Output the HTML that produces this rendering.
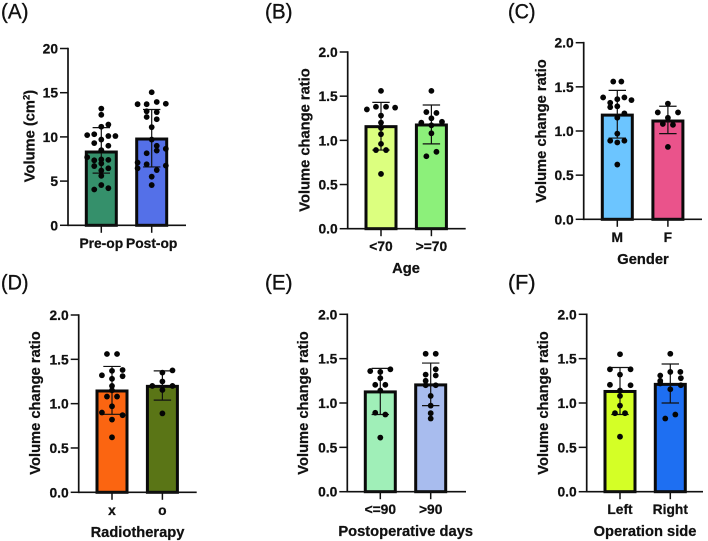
<!DOCTYPE html>
<html lang="en">
<head>
<meta charset="utf-8">
<title>Volume change charts</title>
<style>
html,body{margin:0;padding:0;background:#fff}
svg{display:block}
text{font-family:"Liberation Sans",Arial,sans-serif;fill:#111}
.tick,.cat{font-weight:700;font-size:13.8px;stroke:#111;stroke-width:.25px}
.title{font-weight:700;font-size:14.7px;stroke:#111;stroke-width:.25px}
.letter{font-size:21.5px;stroke:#111;stroke-width:.35px}
</style>
</head>
<body>
<svg id="fig" xmlns="http://www.w3.org/2000/svg" width="708" height="541" viewBox="0 0 708 541"></svg>
<script>
// ---- data: ticks ----
const volumeTicks = [0, 5, 10, 15, 20];
const ratioTicks = [0, 0.5, 1, 1.5, 2];

// ---- panel A ----
const aCategories = ['Pre-op', 'Post-op'];
const aMeans = [8.29, 9.76];
const aErrLow = [5.9, 6.6];
const aErrHigh = [11.05, 13.1];
const aPre = [13.2,12.5,11.4,11.15,10.2,10.3,10.1,10.1,9.7,9.3,9.0,8.5,7.7,7.35,7.45,7.4,6.7,7.0,6.45,6.2,5.6,4.55,4.05,4.2];
const aPreJitter = [0,0,.14,0,-.28,-.14,.14,.28,0,-.14,.14,0,-.28,-.14,0,.14,-.14,0,.14,0,0,0,-.14,.14];
const aPost = [15.05,13.7,13.7,13.95,13.75,12.9,12.8,12.25,12.0,11.1,9.7,9.0,8.65,8.15,8.45,7.1,6.9,6.25,6.45,6.75,5.5,4.55];
const aPostJitter = [0,-.28,-.1,.1,.28,-.1,.1,-.1,.1,0,0,.1,.28,-.1,.1,-.28,-.1,.1,-.28,.28,0,0];

// ---- panel B ----
const bCategories = ['<70', '>=70'];
const bMeans = [1.155, 1.174];
const bErrLow = [0.89, 0.96];
const bErrHigh = [1.43, 1.40];
const bLeft = [1.56,1.35,1.38,1.38,1.37,1.28,1.20,1.14,1.07,0.96,0.89,0.89,0.62];
const bLeftJitter = [0,-.28,-.1,.1,.28,0,0,0,0,0,-.1,.1,0];
const bRight = [1.56,1.32,1.31,1.25,1.20,1.21,1.17,1.08,0.82,0.87];
const bRightJitter = [0,-.1,.1,0,-.2,.21,0,0,-.1,.1];

// ---- panel C ----
const cCategories = ['M', 'F'];
const cMeans = [1.18, 1.113];
const cErrLow = [0.92, 0.97];
const cErrHigh = [1.46, 1.28];
const cLeft = [1.56,1.56,1.38,1.32,1.36,1.38,1.35,1.27,1.28,1.20,1.15,0.97,0.89,0.87,0.89,0.62];
const cLeftJitter = [-.08,.08,-.28,-.14,0,.14,.28,-.14,0,.14,0,0,-.14,0,.14,0];
const cRight = [1.31,1.21,1.21,1.15,1.08,1.07,0.82];
const cRightJitter = [0,-.2,.2,0,-.1,.1,0];

// ---- panel D ----
const dCategories = ['x', 'o'];
const dMeans = [1.143, 1.195];
const dErrLow = [0.88, 1.04];
const dErrHigh = [1.42, 1.37];
const dLeft = [1.56,1.56,1.38,1.37,1.32,1.31,1.28,1.20,1.15,1.08,1.08,0.97,0.90,0.87,0.82,0.62];
const dLeftJitter = [-.1,.1,.21,0,-.2,.21,0,0,0,-.1,.1,0,-.2,.21,0,0];
const dRight = [1.35,1.375,1.25,1.20,1.20,1.155,0.89];
const dRightJitter = [0,.2,0,-.2,.2,0,0];

// ---- panel E ----
const eCategories = ['<=90', '>90'];
const eMeans = [1.125, 1.204];
const eErrLow = [0.87, 0.97];
const eErrHigh = [1.39, 1.45];
const eLeft = [1.36,1.38,1.35,1.28,1.205,1.205,1.14,0.89,0.87,0.61];
const eLeftJitter = [-.2,.2,0,0,-.1,.1,0,-.1,.1,0];
const eRight = [1.555,1.555,1.38,1.32,1.31,1.25,1.20,1.20,1.08,0.97,0.885,0.825];
const eRightJitter = [-.1,.1,.1,-.1,.1,-.1,.1,-.1,0,0,0,0];

// ---- panel F ----
const fCategories = ['Left', 'Right'];
const fMeans = [1.13, 1.21];
const fErrLow = [0.87, 1.0];
const fErrHigh = [1.40, 1.44];
const fLeft = [1.55,1.38,1.38,1.32,1.205,1.20,1.14,1.08,0.97,0.885,0.885,0.62];
const fLeftJitter = [0,-.2,.21,0,-.2,.21,0,0,0,-.1,.1,0];
const fRight = [1.555,1.31,1.35,1.35,1.25,1.28,1.22,1.20,1.155,0.825,0.87];
const fRightJitter = [0,-.2,.2,0,-.2,.21,-.2,.21,0,-.1,.1];

const svg = document.getElementById('fig');
const NS = 'http://www.w3.org/2000/svg';

function mk(parent, tag, attrs, txt) {
  const el = document.createElementNS(NS, tag);
  for (const k in attrs) el.setAttribute(k, attrs[k]);
  if (txt !== undefined) el.textContent = txt;
  parent.appendChild(el);
  return el;
}

function drawPanel(p) {
  const g = mk(svg, 'g', {});
  
  

  const yMax = p.ticks[p.ticks.length - 1];
  const scaleY = v => p.y0 - (v / yMax) * (p.y0 - p.yTop);
  const scaleX = c => p.x0 + c * p.step;

  const letter = mk(g, 'text', {class: 'letter', x: p.lx, y: p.ly, textLength: 27.5, lengthAdjust: 'spacingAndGlyphs'}, '(' + p.id.toUpperCase() + ')');
  
  

  const series = [
    {values: p.values[0], jitter: p.jitter[0]},
    {values: p.values[1], jitter: p.jitter[1]}
  ];

  series.forEach((s, i) => {
    const cx = scaleX(i);
    const bar = mk(g, 'rect', {
      x: cx - 15, y: scaleY(p.means[i]), width: 30,
      height: p.y0 - scaleY(p.means[i]),
      fill: p.colors[i], stroke: '#0a0a0a', 'stroke-width': 3
    });
    
    

    const err = mk(g, 'path', {
      d: 'M' + cx + ' ' + scaleY(p.errLow[i]) + 'V' + scaleY(p.errHigh[i]) +
         'M' + (cx - 8.7) + ' ' + scaleY(p.errLow[i]) + 'H' + (cx + 8.7) +
         'M' + (cx - 8.7) + ' ' + scaleY(p.errHigh[i]) + 'H' + (cx + 8.7),
      fill: 'none', stroke: '#111', 'stroke-width': 1.2
    });
    
    

    s.values.forEach((v, j) => {
      const dot = mk(g, 'circle', {cx: scaleX(i + s.jitter[j]), cy: scaleY(v), r: 2.9, fill: '#050505'});
      
      
    });

    const tk = mk(g, 'line', {x1: cx, x2: cx, y1: p.y0, y2: p.y0 + 7.5, stroke: '#111', 'stroke-width': 1.5});
    
    

    const lab = mk(g, 'text', {class: 'cat', x: cx, y: p.y0 + 22.5, 'text-anchor': 'middle'}, p.cats[i]);
    
    
  });

  const yAxis = mk(g, 'line', {x1: p.ax, x2: p.ax, y1: p.yTop - 0.8, y2: p.y0 + 0.8, stroke: '#111', 'stroke-width': 1.7});
  
  

  const xAxis = mk(g, 'line', {x1: p.ax, x2: p.axEnd, y1: p.y0, y2: p.y0, stroke: '#111', 'stroke-width': 1.7});
  
  

  p.ticks.forEach(t => {
    const ty = scaleY(t);
    const tk = mk(g, 'line', {x1: p.ax - 8, x2: p.ax, y1: ty, y2: ty, stroke: '#111', 'stroke-width': 1.5});
    
    
    const lab = mk(g, 'text', {class: 'tick', x: p.ax - 10, y: ty + 5, 'text-anchor': 'end'}, p.fmt(t));
    
    
  });

  const yt = mk(g, 'text', {
    class: 'title', 'text-anchor': 'middle',
    transform: 'translate(' + p.ytx + ' ' + p.yty + ') rotate(-90)'
  });
  
  
  if (p.sup) {
    mk(yt, 'tspan', {}, 'Volume (cm');
    mk(yt, 'tspan', {dy: -5, 'font-size': '9.5px'}, '2');
    mk(yt, 'tspan', {dy: 5}, ')');
  } else {
    yt.textContent = 'Volume change ratio';
  }

  if (p.xTitle) {
    const xt = mk(g, 'text', {class: 'title', x: p.xtx, y: p.y0 + 44.5, 'text-anchor': 'middle'}, p.xTitle);
    
    
  }
}

const f1 = t => t.toFixed(1);
const f0 = t => String(t);

drawPanel({id:'a', ticks:volumeTicks, fmt:f0, sup:true, cats:aCategories, means:aMeans, errLow:aErrLow, errHigh:aErrHigh,
  values:[aPre,aPost], jitter:[aPreJitter,aPostJitter], colors:['#35906b','#5470e8'],
  ax:68, axEnd:186, yTop:48.5, y0:225.3, x0:101.3, step:50.4, lx:1, ly:18.5, ytx:34.5, yty:136});
drawPanel({id:'b', ticks:ratioTicks, fmt:f1, cats:bCategories, means:bMeans, errLow:bErrLow, errHigh:bErrHigh,
  values:[bLeft,bRight], jitter:[bLeftJitter,bRightJitter], colors:['#dcff7f','#8cf07a'],
  ax:347.7, axEnd:465.7, yTop:52, y0:228.7, x0:381, step:50.4, lx:265, ly:18.5, ytx:309.5, yty:140, xTitle:'Age', xtx:406});
drawPanel({id:'c', ticks:ratioTicks, fmt:f1, cats:cCategories, means:cMeans, errLow:cErrLow, errHigh:cErrHigh,
  values:[cLeft,cRight], jitter:[cLeftJitter,cRightJitter], colors:['#6cc5ff','#ea538b'],
  ax:583.7, axEnd:702, yTop:42.7, y0:219.3, x0:617.3, step:50.6, lx:508, ly:18.5, ytx:546, yty:131, xTitle:'Gender', xtx:643});
drawPanel({id:'d', ticks:ratioTicks, fmt:f1, cats:dCategories, means:dMeans, errLow:dErrLow, errHigh:dErrHigh,
  values:[dLeft,dRight], jitter:[dLeftJitter,dRightJitter], colors:['#fb6511','#5a7516'],
  ax:78.7, axEnd:196.7, yTop:315, y0:492.3, x0:112, step:50.4, lx:1, ly:289.5, ytx:40, yty:403, xTitle:'Radiotherapy', xtx:137.5});
drawPanel({id:'e', ticks:ratioTicks, fmt:f1, cats:eCategories, means:eMeans, errLow:eErrLow, errHigh:eErrHigh,
  values:[eLeft,eRight], jitter:[eLeftJitter,eRightJitter], colors:['#a0efb8','#a8bcee'],
  ax:347.3, axEnd:466, yTop:314.3, y0:491.7, x0:380.3, step:50.4, lx:265, ly:289.5, ytx:308, yty:403, xTitle:'Postoperative days', xtx:405.7});
drawPanel({id:'f', ticks:ratioTicks, fmt:f1, cats:fCategories, means:fMeans, errLow:fErrLow, errHigh:fErrHigh,
  values:[fLeft,fRight], jitter:[fLeftJitter,fRightJitter], colors:['#d4ff26','#1e6ff2'],
  ax:586.7, axEnd:703, yTop:314.3, y0:491.7, x0:620, step:50.3, lx:508, ly:289.5, ytx:548, yty:403, xTitle:'Operation side', xtx:645});
</script>
</body>
</html>
